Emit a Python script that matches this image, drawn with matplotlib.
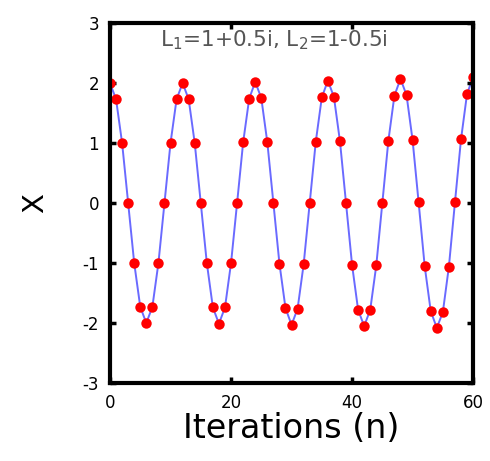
import matplotlib.pyplot as plt

plt.rcParams['axes.unicode_minus'] = False

# iteration index and the sampled state
n = list(range(61))
x = [2.00, 1.73, 1.00, 0.00, -1.00, -1.73, -2.00, -1.73, -1.00, 0.00,
     1.00, 1.73, 2.00, 1.73, 1.00, 0.00, -1.00, -1.74, -2.01, -1.74,
     -1.00, 0.00, 1.01, 1.74, 2.02, 1.75, 1.01, 0.00, -1.01, -1.75,
     -2.03, -1.76, -1.02, 0.00, 1.02, 1.76, 2.04, 1.77, 1.03, 0.00,
     -1.03, -1.78, -2.05, -1.78, -1.04, 0.00, 1.04, 1.79, 2.07, 1.80,
     1.05, 0.01, -1.05, -1.80, -2.08, -1.82, -1.06, 0.01, 1.06, 1.82,
     2.10]
xticks = [0, 20, 40, 60]
yticks = [-3, -2, -1, 0, 1, 2, 3]

fig = plt.figure(figsize=(4.9, 4.61), dpi=100)
ax = fig.add_axes([0.2245, 0.169, 0.741, 0.781])

ax.plot(n, x, color='#6a6aff', lw=1.4, zorder=1)
ax.plot(n, x, 'o', color='red', ms=7.5, mec='none', zorder=2)

ax.set_xlim(0, 60)
ax.set_ylim(-3, 3)
ax.set_xticks(xticks)
ax.set_yticks(yticks)
ax.tick_params(direction='in', top=True, right=True, width=2.5, length=4,
               labelsize=12, colors='black', pad=8)
for s in ax.spines.values():
    s.set_linewidth(3)

ax.text(27.0, 2.72, 'L$_1$=1+0.5i, L$_2$=1-0.5i', ha='center', va='center',
        fontsize=15.5, color='#555555')
ax.set_xlabel('Iterations (n)', fontsize=24, labelpad=0)
ax.set_ylabel('X', fontsize=21, rotation=90, labelpad=24)

fig.savefig('out.png', dpi=100)
